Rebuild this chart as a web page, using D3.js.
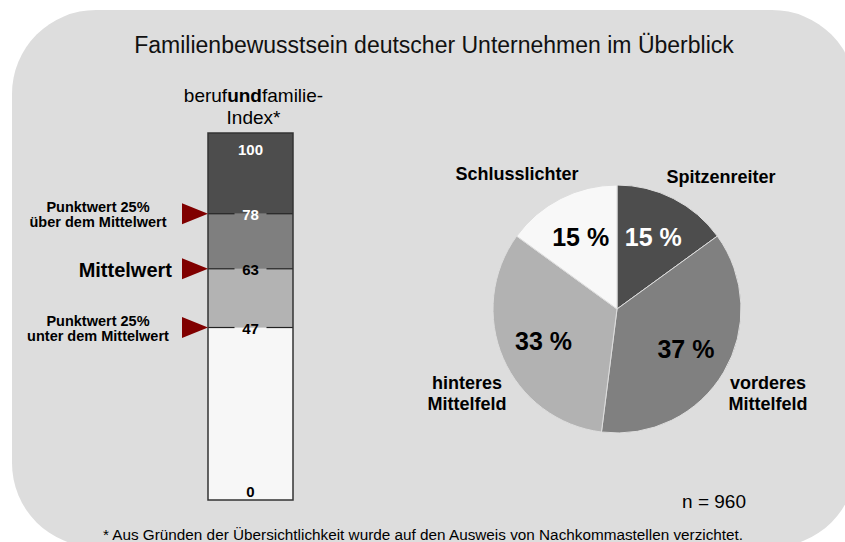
<!DOCTYPE html>
<html>
<head>
<meta charset="utf-8">
<script src="https://cdn.jsdelivr.net/npm/d3@7"></script>
<style>
    body { margin: 0; background: #ffffff; }
    text { font-family: "Liberation Sans", Arial, sans-serif; }
</style>
</head>
<body>
<div id="chart"></div>
<script>
// index scale (berufundfamilie-Index)
const indexTicks = [0, 47, 63, 78, 100];
const indexBandColors = ["#f7f7f7", "#b3b3b3", "#7f7f7f", "#4d4d4d"];
const markerValues = [78, 63, 47];
const markerLabels = [
    ["Punktwert 25%", "über dem Mittelwert"],
    ["Mittelwert"],
    ["Punktwert 25%", "unter dem Mittelwert"]
];

// pie (share of companies)
const groups = ["Spitzenreiter", "vorderes Mittelfeld", "hinteres Mittelfeld", "Schlusslichter"];
const shares = [15, 37, 33, 15];
const groupColors = ["#4d4d4d", "#808080", "#b2b2b2", "#f8f8f8"];
const pctColors = ["#ffffff", "#000000", "#000000", "#000000"];

const width = 845;
const height = 542;

const svg = d3.select("#chart")
    .append("svg")
    .attr("width", width)
    .attr("height", height);

// rounded background panel
svg.append("rect")
    .attr("x", 12)
    .attr("y", 10)
    .attr("width", 844)
    .attr("height", 537)
    .attr("rx", 84)
    .attr("ry", 84)
    .attr("fill", "#dddddd");

svg.append("text")
    .attr("x", 434)
    .attr("y", 45)
    .attr("text-anchor", "middle")
    .attr("dy", "0.35em")
    .attr("font-size", "23px")
    .attr("fill", "#111")
    .text("Familienbewusstsein deutscher Unternehmen im Überblick");

// ---------- index bar ----------
const barX = 208, barW = 85;
const yScale = d3.scaleLinear().domain([0, 100]).range([500, 133]);

const head = svg.append("text")
    .attr("x", barX + barW / 2 + 3)
    .attr("y", 95)
    .attr("text-anchor", "middle")
    .attr("dy", "0.35em")
    .attr("font-size", "19px");
head.append("tspan").text("beruf");
head.append("tspan").attr("font-weight", "bold").text("und");
head.append("tspan").text("familie-");
svg.append("text")
    .attr("x", barX + barW / 2 + 3)
    .attr("y", 117)
    .attr("text-anchor", "middle")
    .attr("dy", "0.35em")
    .attr("font-size", "19px")
    .text("Index*");

for (let i = 0; i < indexBandColors.length; i++) {
    svg.append("rect")
        .attr("x", barX)
        .attr("y", yScale(indexTicks[i + 1]))
        .attr("width", barW)
        .attr("height", yScale(indexTicks[i]) - yScale(indexTicks[i + 1]))
        .attr("fill", indexBandColors[i]);
}

// divider lines with a gap for the value label
const gap = 16;
for (let i = 1; i < indexTicks.length - 1; i++) {
    const y = yScale(indexTicks[i]);
    svg.append("line")
        .attr("x1", barX).attr("x2", barX + barW / 2 - gap)
        .attr("y1", y).attr("y2", y)
        .attr("stroke", "#222").attr("stroke-width", 1.2);
    svg.append("line")
        .attr("x1", barX + barW / 2 + gap).attr("x2", barX + barW)
        .attr("y1", y).attr("y2", y)
        .attr("stroke", "#222").attr("stroke-width", 1.2);
}

svg.append("rect")
    .attr("x", barX)
    .attr("y", yScale(100))
    .attr("width", barW)
    .attr("height", yScale(0) - yScale(100))
    .attr("fill", "none")
    .attr("stroke", "#333")
    .attr("stroke-width", 1.5);

// value labels in the bar
for (let i = 0; i < indexTicks.length; i++) {
    const v = indexTicks[i];
    let y = yScale(v);
    if (v === 100) y += 16;
    if (v === 0) y -= 9;
    svg.append("text")
        .attr("x", barX + barW / 2)
        .attr("y", y + 1)
        .attr("text-anchor", "middle")
        .attr("dy", "0.35em")
        .attr("font-size", "15px")
        .attr("font-weight", "bold")
        .attr("fill", v >= 78 ? "#ffffff" : "#000000")
        .text(v);
}

// red markers and their labels
for (let i = 0; i < markerValues.length; i++) {
    const y = yScale(markerValues[i]);
    svg.append("path")
        .attr("d", `M${barX},${y} L${barX - 26},${y - 10.5} L${barX - 26},${y + 10.5} Z`)
        .attr("fill", "#800000");

    const lines = markerLabels[i];
    if (lines.length === 1) {
        svg.append("text")
            .attr("x", 172)
            .attr("y", y + 1)
            .attr("text-anchor", "end")
            .attr("dy", "0.35em")
            .attr("font-size", "20px")
            .attr("font-weight", "bold")
            .text(lines[0]);
    } else {
        lines.forEach(function (t, k) {
            svg.append("text")
                .attr("x", 98)
                .attr("y", y - 7 + k * 15)
                .attr("text-anchor", "middle")
                .attr("dy", "0.35em")
                .attr("font-size", "14.5px")
                .attr("font-weight", "bold")
                .text(t);
        });
    }
}

// ---------- pie ----------
const cx = 617, cy = 309, radius = 124;
const pie = d3.pie().sort(null).value(function (d) { return d; });
const arcs = pie(shares);
const arc = d3.arc().innerRadius(0).outerRadius(radius);
const labelArc = d3.arc().innerRadius(80).outerRadius(80);

const g = svg.append("g").attr("transform", `translate(${cx},${cy})`);

g.selectAll(".slice")
    .data(arcs)
    .enter()
    .append("path")
    .attr("class", "slice")
    .attr("d", arc)
    .attr("fill", function (d, i) { return groupColors[i]; })
    .attr("stroke", "#dddddd")
    .attr("stroke-width", 1);

g.selectAll(".pct")
    .data(arcs)
    .enter()
    .append("text")
    .attr("class", "pct")
    .attr("transform", function (d) { return `translate(${labelArc.centroid(d)})`; })
    .attr("text-anchor", "middle")
    .attr("dy", "0.35em")
    .attr("font-size", "25px")
    .attr("font-weight", "bold")
    .attr("fill", function (d, i) { return pctColors[i]; })
    .text(function (d) { return d.data + " %"; });

// category names around the pie (offsets from centre)
const nameOffsets = [[104, -132], [151, 84], [-150, 84], [-100, -135]];
for (let i = 0; i < groups.length; i++) {
    const words = groups[i].split(" ");
    const n = words.length;
    words.forEach(function (w, k) {
        g.append("text")
            .attr("x", nameOffsets[i][0])
            .attr("y", nameOffsets[i][1] + (k - (n - 1) / 2) * 21)
            .attr("text-anchor", "middle")
            .attr("dy", "0.35em")
            .attr("font-size", "18px")
            .attr("font-weight", "bold")
            .text(w);
    });
}

svg.append("text")
    .attr("x", 714)
    .attr("y", 501)
    .attr("text-anchor", "middle")
    .attr("dy", "0.35em")
    .attr("font-size", "19px")
    .text("n = 960");

svg.append("text")
    .attr("x", 423)
    .attr("y", 535)
    .attr("text-anchor", "middle")
    .attr("dy", "0.35em")
    .attr("font-size", "15.3px")
    .text("* Aus Gründen der Übersichtlichkeit wurde auf den Ausweis von Nachkommastellen verzichtet.");
</script>
</body>
</html>
